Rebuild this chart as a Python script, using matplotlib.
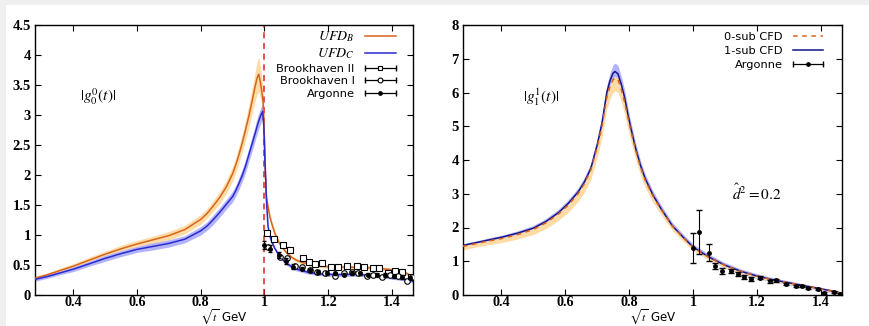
import matplotlib.pyplot as plt
from matplotlib.lines import Line2D
from matplotlib.legend_handler import HandlerLine2D, HandlerTuple
import numpy as np

plt.rcParams['font.family'] = 'serif'
plt.rcParams['font.serif'] = ['Liberation Serif', 'DejaVu Serif']
plt.rcParams['mathtext.fontset'] = 'stix'

# --- left panel: |g_0^0(t)| ---
ufdb_x = [0.28, 0.32, 0.36, 0.40, 0.45, 0.50, 0.55, 0.60, 0.65, 0.70, 0.75, 0.80, 0.82, 0.84,
          0.86, 0.88, 0.90, 0.91, 0.92, 0.93, 0.94, 0.95, 0.96, 0.97, 0.977, 0.982, 0.987,
          0.992, 0.996, 1.0, 1.003, 1.006, 1.01, 1.017, 1.025, 1.033, 1.045, 1.055, 1.07,
          1.085, 1.1, 1.12, 1.15, 1.2, 1.25, 1.3, 1.35, 1.4, 1.43, 1.45, 1.466]
ufdb_y = [0.28, 0.34, 0.41, 0.48, 0.58, 0.68, 0.77, 0.85, 0.92, 0.99, 1.09, 1.26, 1.36, 1.49,
          1.63, 1.80, 2.02, 2.17, 2.34, 2.53, 2.74, 2.96, 3.20, 3.46, 3.62, 3.68, 3.55,
          3.38, 3.2, 2.6, 2.0, 1.64, 1.5, 1.3, 1.15, 1.02, 0.88, 0.8, 0.7,
          0.63, 0.58, 0.54, 0.5, 0.47, 0.465, 0.46, 0.45, 0.42, 0.40, 0.35, 0.29]
ufdb_err = [0.03, 0.03, 0.04, 0.04, 0.05, 0.05, 0.06, 0.06, 0.06, 0.07, 0.07, 0.08, 0.08, 0.09,
            0.10, 0.11, 0.12, 0.13, 0.14, 0.15, 0.17, 0.19, 0.21, 0.24, 0.27, 0.29, 0.27,
            0.24, 0.2, 0.15, 0.1, 0.08, 0.07, 0.06, 0.05, 0.05, 0.04, 0.04, 0.03,
            0.03, 0.03, 0.03, 0.03, 0.03, 0.03, 0.03, 0.03, 0.03, 0.03, 0.03, 0.03]

ufdc_x = [0.28, 0.32, 0.36, 0.40, 0.45, 0.50, 0.55, 0.60, 0.65, 0.70, 0.75, 0.80, 0.82, 0.84,
          0.86, 0.88, 0.90, 0.91, 0.92, 0.93, 0.94, 0.95, 0.96, 0.97, 0.98, 0.988, 0.994,
          0.998, 1.001, 1.004, 1.006, 1.011, 1.016, 1.022, 1.032, 1.043, 1.055, 1.064, 1.08,
          1.095, 1.115, 1.137, 1.16, 1.19, 1.24, 1.29, 1.34, 1.39, 1.43, 1.45, 1.466]
ufdc_y = [0.26, 0.31, 0.37, 0.43, 0.52, 0.61, 0.69, 0.76, 0.81, 0.86, 0.93, 1.07, 1.15, 1.26,
          1.38, 1.51, 1.64, 1.74, 1.86, 1.99, 2.14, 2.32, 2.50, 2.68, 2.87, 2.99, 3.06,
          2.8, 2.3, 1.9, 1.6, 1.15, 1.0, 0.9, 0.78, 0.68, 0.6, 0.55, 0.49,
          0.44, 0.41, 0.38, 0.36, 0.345, 0.34, 0.345, 0.32, 0.30, 0.27, 0.25, 0.23]
ufdc_err = [0.03, 0.03, 0.03, 0.04, 0.04, 0.05, 0.05, 0.05, 0.06, 0.06, 0.06, 0.07, 0.07, 0.08,
            0.08, 0.08, 0.09, 0.09, 0.10, 0.10, 0.11, 0.11, 0.12, 0.12, 0.13, 0.13, 0.12,
            0.1, 0.08, 0.06, 0.05, 0.04, 0.04, 0.04, 0.03, 0.03, 0.03, 0.03, 0.03,
            0.03, 0.03, 0.03, 0.03, 0.03, 0.03, 0.03, 0.03, 0.03, 0.03, 0.03, 0.03]

bh2_x = [1.007, 1.030, 1.059, 1.080, 1.120, 1.140, 1.160, 1.180, 1.209, 1.230, 1.260, 1.290,
         1.311, 1.340, 1.360, 1.389, 1.410, 1.431, 1.459]
bh2_y = [1.04, 0.93, 0.84, 0.75, 0.62, 0.55, 0.51, 0.53, 0.47, 0.46, 0.48, 0.49,
         0.47, 0.45, 0.45, 0.37, 0.40, 0.38, 0.30]

bh1_x = [1.010, 1.049, 1.072, 1.096, 1.117, 1.143, 1.164, 1.190, 1.222, 1.248, 1.274, 1.295,
         1.321, 1.342, 1.368, 1.394, 1.420, 1.447, 1.463]
bh1_y = [0.80, 0.63, 0.61, 0.48, 0.47, 0.41, 0.38, 0.36, 0.32, 0.36, 0.38, 0.36,
         0.32, 0.34, 0.30, 0.33, 0.31, 0.23, 0.30]

arg0_x = [1.0, 1.018, 1.044, 1.067, 1.091, 1.117, 1.143, 1.169, 1.196, 1.222, 1.248, 1.274,
          1.300, 1.326, 1.353, 1.379, 1.405, 1.431, 1.457]
arg0_y = [0.83, 0.77, 0.66, 0.56, 0.47, 0.44, 0.41, 0.38, 0.37, 0.36, 0.34, 0.37,
          0.36, 0.34, 0.34, 0.33, 0.31, 0.30, 0.29]
arg0_err = [0.07, 0.06, 0.05, 0.05, 0.04, 0.03, 0.03, 0.03, 0.03, 0.03, 0.03, 0.03,
            0.03, 0.03, 0.03, 0.03, 0.03, 0.03, 0.03]

# --- right panel: |g_1^1(t)| ---
cfd_x = [0.28, 0.32, 0.36, 0.40, 0.45, 0.50, 0.54, 0.58, 0.61, 0.64, 0.66, 0.68, 0.70, 0.715,
         0.73, 0.74, 0.75, 0.756, 0.765, 0.775, 0.785, 0.795, 0.805, 0.82, 0.835, 0.85,
         0.875, 0.90, 0.935, 0.97, 1.0, 1.05, 1.1, 1.15, 1.2, 1.25, 1.3, 1.35, 1.4, 1.44, 1.466]
cfd1_y = [1.47, 1.55, 1.63, 1.71, 1.83, 1.98, 2.18, 2.45, 2.72, 3.05, 3.35, 3.75, 4.45, 5.1,
          6.0, 6.35, 6.58, 6.62, 6.55, 6.25, 5.88, 5.4, 4.95, 4.35, 3.85, 3.45,
          2.95, 2.55, 2.05, 1.7, 1.42, 1.12, 0.88, 0.7, 0.56, 0.45, 0.36, 0.27, 0.18, 0.11, 0.05]
cfd1_err = [0.05, 0.05, 0.06, 0.06, 0.07, 0.08, 0.09, 0.10, 0.11, 0.12, 0.14, 0.15, 0.17, 0.19,
            0.21, 0.23, 0.25, 0.25, 0.25, 0.24, 0.22, 0.2, 0.18, 0.16, 0.14, 0.13,
            0.12, 0.11, 0.10, 0.09, 0.09, 0.08, 0.08, 0.07, 0.07, 0.06, 0.06, 0.05, 0.05, 0.04, 0.04]
cfd0_y = [1.44, 1.52, 1.60, 1.67, 1.79, 1.94, 2.14, 2.41, 2.67, 3.0, 3.3, 3.7, 4.38, 5.0,
          5.85, 6.18, 6.38, 6.43, 6.38, 6.1, 5.74, 5.3, 4.87, 4.3, 3.8, 3.4,
          2.92, 2.53, 2.04, 1.69, 1.41, 1.11, 0.88, 0.7, 0.56, 0.45, 0.36, 0.27, 0.18, 0.11, 0.05]
cfd0_dn = [0.10, 0.10, 0.11, 0.12, 0.13, 0.15, 0.17, 0.19, 0.21, 0.23, 0.25, 0.28, 0.3, 0.32,
           0.35, 0.37, 0.38, 0.38, 0.38, 0.37, 0.35, 0.33, 0.3, 0.27, 0.24, 0.22,
           0.19, 0.16, 0.13, 0.11, 0.09, 0.08, 0.07, 0.06, 0.05, 0.05, 0.04, 0.04, 0.03, 0.03, 0.03]
cfd0_up = [0.02, 0.02, 0.02, 0.02, 0.02, 0.03, 0.03, 0.03, 0.03, 0.04, 0.04, 0.04, 0.05, 0.05,
           0.05, 0.05, 0.05, 0.05, 0.05, 0.05, 0.05, 0.05, 0.05, 0.04, 0.04, 0.04,
           0.03, 0.03, 0.03, 0.03, 0.03, 0.02, 0.02, 0.02, 0.02, 0.02, 0.02, 0.02, 0.02, 0.02, 0.02]

arg1_x = [1.0, 1.02, 1.049, 1.07, 1.089, 1.12, 1.139, 1.16, 1.18, 1.21, 1.241, 1.261,
          1.29, 1.321, 1.34, 1.36, 1.39, 1.41, 1.441, 1.461]
arg1_y = [1.40, 1.87, 1.25, 0.86, 0.71, 0.71, 0.63, 0.53, 0.47, 0.51, 0.41, 0.43,
          0.34, 0.26, 0.27, 0.22, 0.19, 0.06, 0.08, 0.04]
arg1_err = [0.44, 0.66, 0.25, 0.10, 0.09, 0.07, 0.06, 0.05, 0.05, 0.04, 0.04, 0.03,
            0.03, 0.03, 0.03, 0.03, 0.03, 0.03, 0.03, 0.03]

orange = '#d8641c'
orange_band = '#ffdba6'
blue = '#2a2ad0'
blue_band = '#b3b3fb'
navy = '#14148c'
sans = {'family': 'DejaVu Sans', 'size': 8.2}

fig = plt.figure(figsize=(8.7, 3.26), dpi=100, facecolor='#efefef')
fig.patches.append(plt.Rectangle((6 / 870, 0), 1, 1 - 5 / 326, transform=fig.transFigure,
                                 facecolor='white', edgecolor='none', zorder=-10))

ax1 = fig.add_axes([35 / 870, 31 / 326, 378 / 870, 270 / 326])
ax2 = fig.add_axes([463 / 870, 31 / 326, 379 / 870, 270 / 326])


def style(ax, ymax, ystep):
    ax.set_xlim(0.28, 1.466)
    ax.set_ylim(0, ymax)
    ax.set_xticks(np.arange(0.4, 1.41, 0.2))
    ax.set_xticklabels(['0.4', '0.6', '0.8', '1', '1.2', '1.4'])
    yt = np.arange(0, ymax + 0.01, ystep)
    ax.set_yticks(yt)
    ax.set_yticklabels(['%g' % v for v in yt])
    ax.tick_params(direction='in', top=True, right=True, length=4, width=0.8,
                   labelsize=10.5, pad=3)
    ax.tick_params(axis='x', pad=0.5, labelsize=10.2)
    for lab in ax.get_xticklabels() + ax.get_yticklabels():
        lab.set_fontweight('bold')
    for s in ax.spines.values():
        s.set_linewidth(1.0)
    ax.set_xlabel(r'$\sqrt{t}$ GeV', fontsize=8.6, family='DejaVu Sans', va='bottom')
    ax.xaxis.set_label_coords(0.5, -0.114)


def errbar_handle(marker, mfc, ms):
    caps = Line2D([], [], color='black', lw=0.9, marker='|', markersize=5)
    dot = Line2D([], [], color='black', lw=0, marker=marker, markersize=ms,
                 markerfacecolor=mfc, markeredgewidth=0.8)
    return (caps, dot), dot


# left panel
ax1.fill_between(ufdb_x, np.array(ufdb_y) - ufdb_err, np.array(ufdb_y) + ufdb_err,
                 color=orange_band, lw=0, zorder=1)
ax1.fill_between(ufdc_x, np.array(ufdc_y) - ufdc_err, np.array(ufdc_y) + ufdc_err,
                 color=blue_band, lw=0, zorder=1)
ax1.plot(ufdb_x, ufdb_y, color=orange, lw=1.1, zorder=3)
ax1.plot(ufdc_x, ufdc_y, color=blue, lw=1.1, zorder=3)
ax1.axvline(1.0, color='#e02020', lw=1.1, ls=(0, (4, 3)), zorder=2)
ax1.plot(bh2_x, bh2_y, ls='none', marker='s', ms=4.2, mfc='white', mec='black', mew=0.8, zorder=4)
ax1.plot(bh1_x, bh1_y, ls='none', marker='o', ms=4, mfc='white', mec='black', mew=0.8, zorder=4)
ax1.errorbar(arg0_x, arg0_y, yerr=arg0_err, fmt='o', ms=2.5, color='black', lw=0.8,
             capsize=1.5, zorder=5)
ax1.text(0.42, 3.3, r'$|g_0^0(t)|$', fontsize=11, va='center')
style(ax1, 4.5, 0.5)

h_b = Line2D([], [], color=orange, lw=1.1)
h_c = Line2D([], [], color=blue, lw=1.1)
h2, d2 = errbar_handle('s', 'white', 3.5)
h1, d1 = errbar_handle('o', 'white', 3.5)
ha, da = errbar_handle('o', 'black', 2.6)
hmap = {d: HandlerLine2D(numpoints=1) for d in (d2, d1, da)}
hmap[tuple] = HandlerTuple(ndivide=1)
leg = ax1.legend([h_b, h_c, h2, h1, ha],
                 [r'$UFD_B$', r'$UFD_C$', 'Brookhaven II', 'Brookhaven I', 'Argonne'],
                 loc='upper right', bbox_to_anchor=(0.963, 0.985), frameon=False,
                 markerfirst=False, numpoints=2, handlelength=3.3, handletextpad=0.6,
                 labelspacing=0.22, borderaxespad=0, borderpad=0, handler_map=hmap,
                 prop=sans)
for t in leg.get_texts()[:2]:
    t.set_fontsize(10)

# right panel
ax2.fill_between(cfd_x, np.array(cfd1_y) - cfd1_err, np.array(cfd1_y) + cfd1_err,
                 color=blue_band, lw=0, zorder=1)
ax2.fill_between(cfd_x, np.array(cfd0_y) - cfd0_dn, np.array(cfd0_y) + cfd0_up,
                 color=orange_band, lw=0, zorder=2)
ax2.plot(cfd_x, cfd1_y, color=navy, lw=1.1, zorder=3)
ax2.plot(cfd_x, cfd0_y, color=orange, lw=1.1, ls=(0, (3, 3)), zorder=4)
ax2.errorbar(arg1_x, arg1_y, yerr=arg1_err, fmt='o', ms=2.5, color='black', lw=0.8,
             capsize=2, zorder=5)
ax2.text(0.467, 5.87, r'$|g_1^1(t)|$', fontsize=11, va='center')
ax2.text(1.198, 3.02, r'$\hat{d}^2 = 0.2$', fontsize=11, ha='center', va='center')
style(ax2, 8, 1)

h_0 = Line2D([], [], color=orange, lw=1.1, ls=(0, (3, 3)))
h_1 = Line2D([], [], color=navy, lw=1.1)
ha2, da2 = errbar_handle('o', 'black', 2.6)
hmap2 = {da2: HandlerLine2D(numpoints=1), tuple: HandlerTuple(ndivide=1)}
ax2.legend([h_0, h_1, ha2], ['0-sub CFD', '1-sub CFD', 'Argonne'],
           loc='upper right', bbox_to_anchor=(0.96, 0.975), frameon=False,
           markerfirst=False, numpoints=2, handlelength=3.3, handletextpad=0.6,
           labelspacing=0.35, borderaxespad=0, borderpad=0, handler_map=hmap2,
           prop=sans)

fig.savefig('out.png', dpi=100, facecolor=fig.get_facecolor())
